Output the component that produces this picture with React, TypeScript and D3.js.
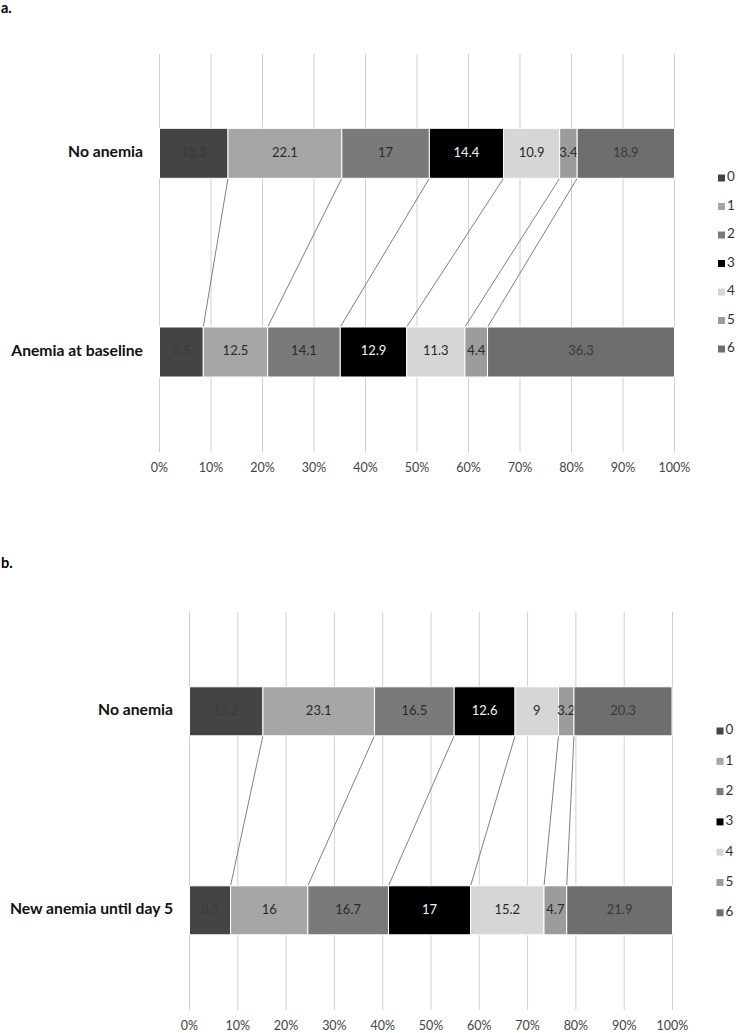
import React from "react";
import * as d3 from "d3";

const seriesKeys = ["0", "1", "2", "3", "4", "5", "6"];
const seriesColors = ["#444444", "#a6a6a6", "#7a7a7a", "#000000", "#d6d6d6", "#9c9c9c", "#6e6e6e"];
const labelColors = ["#3a3a3a", "#2a2a2a", "#2a2a2a", "#f2f2f2", "#2a2a2a", "#2a2a2a", "#3a3a3a"];
const tickValues = [0, 10, 20, 30, 40, 50, 60, 70, 80, 90, 100];

const categoriesA = ["No anemia", "Anemia at baseline"];
const noAnemiaA = [13.3, 22.1, 17, 14.4, 10.9, 3.4, 18.9];
const anemiaBaselineA = [8.5, 12.5, 14.1, 12.9, 11.3, 4.4, 36.3];

const categoriesB = ["No anemia", "New anemia until day 5"];
const noAnemiaB = [15.2, 23.1, 16.5, 12.6, 9, 3.2, 20.3];
const newAnemiaB = [8.5, 16, 16.7, 17, 15.2, 4.7, 21.9];

const FONT = "Lato, 'Open Sans', sans-serif";

type PanelProps = {
  label: string;
  labelY: number;
  categories: string[];
  rows: number[][];
  x0: number;
  x1: number;
  gridTop: number;
  gridBottom: number;
  barCenters: number[];
  barH: number;
  tickY: number;
  legendX: number;
  legendY0: number;
  legendStep: number;
};

function Panel(p: PanelProps) {
  const x = d3.scaleLinear().domain([0, 100]).range([p.x0, p.x1]);
  const stacks = p.rows.map((vals) => {
    const ends = d3.cumsum(vals);
    return vals.map((v, i) => ({ v, start: ends[i] - v, end: ends[i], i }));
  });
  const top = stacks[0];
  const bot = stacks[1];
  return (
    <g>
      <text x={1} y={p.labelY} fontFamily={FONT} fontWeight="bold" fontSize={14.5} fill="#000">
        {p.label}
      </text>
      {tickValues.map((t) => (
        <g key={t}>
          <line x1={x(t)} x2={x(t)} y1={p.gridTop} y2={p.gridBottom} stroke="#d0d0d0" strokeWidth={1} />
          <text
            x={x(t)}
            y={p.tickY}
            textAnchor="middle"
            dominantBaseline="middle"
            fontFamily={FONT}
            fontSize={12.5}
            fill="#444"
          >
            {t + "%"}
          </text>
        </g>
      ))}
      {top.slice(0, -1).map((s, i) => (
        <line
          key={"c" + i}
          x1={x(s.end)}
          y1={p.barCenters[0] + p.barH / 2}
          x2={x(bot[i].end)}
          y2={p.barCenters[1] - p.barH / 2}
          stroke="#808080"
          strokeWidth={1}
        />
      ))}
      {stacks.map((st, r) => (
        <g key={"r" + r}>
          <text
            x={p.x0 - 16.5}
            y={p.barCenters[r]}
            textAnchor="end"
            dominantBaseline="middle"
            fontFamily={FONT}
            fontWeight="bold"
            fontSize={15.7}
            fill="#111"
          >
            {p.categories[r]}
          </text>
          {st.map((s) => (
            <g key={s.i}>
              <rect
                x={x(s.start)}
                y={p.barCenters[r] - p.barH / 2}
                width={x(s.end) - x(s.start)}
                height={p.barH}
                fill={seriesColors[s.i]}
                stroke="#ffffff"
                strokeWidth={1}
              />
              <text
                x={(x(s.start) + x(s.end)) / 2}
                y={p.barCenters[r]}
                textAnchor="middle"
                dominantBaseline="middle"
                fontFamily={FONT}
                fontSize={13}
                fill={labelColors[s.i]}
              >
                {String(s.v)}
              </text>
            </g>
          ))}
        </g>
      ))}
      {seriesKeys.map((k, i) => (
        <g key={"l" + k}>
          <rect
            x={p.legendX}
            y={p.legendY0 + i * p.legendStep - 3.5}
            width={7}
            height={7}
            fill={seriesColors[i]}
          />
          <text
            x={p.legendX + 9}
            y={p.legendY0 + i * p.legendStep}
            dominantBaseline="middle"
            fontFamily={FONT}
            fontSize={13.5}
            fill="#333"
          >
            {k}
          </text>
        </g>
      ))}
    </g>
  );
}

export default function App() {
  return (
    <svg
      width={738}
      height={1033}
      style={{ position: "absolute", left: 0, top: 0, background: "#fff" }}
    >
      <rect width={738} height={1033} fill="#fff" />
      <Panel
        label="a."
        labelY={12.5}
        categories={categoriesA}
        rows={[noAnemiaA, anemiaBaselineA]}
        x0={159.5}
        x1={674.5}
        gridTop={54}
        gridBottom={452}
        barCenters={[153.3, 352]}
        barH={50}
        tickY={469}
        legendX={718}
        legendY0={178}
        legendStep={28.5}
      />
      <Panel
        label="b."
        labelY={568}
        categories={categoriesB}
        rows={[noAnemiaB, newAnemiaB]}
        x0={189.5}
        x1={672.5}
        gridTop={612}
        gridBottom={1010}
        barCenters={[711.3, 910.3]}
        barH={49}
        tickY={1027}
        legendX={716.5}
        legendY0={731}
        legendStep={30.3}
      />
    </svg>
  );
}
